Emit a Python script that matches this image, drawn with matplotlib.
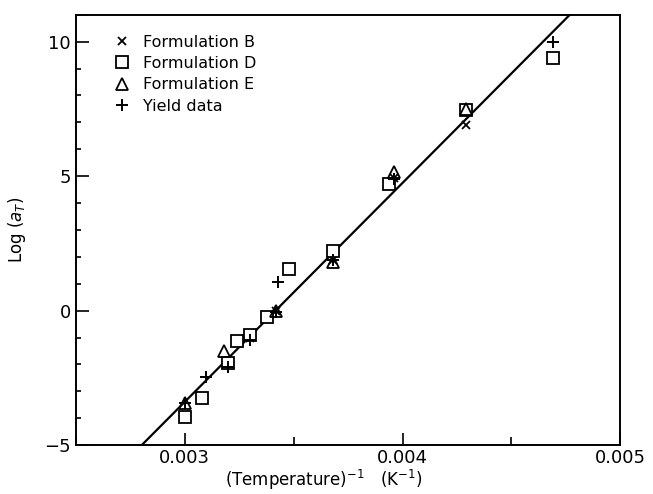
import numpy as np
import matplotlib
matplotlib.use("Agg")
import matplotlib.pyplot as plt
from matplotlib.ticker import MultipleLocator

# ---- data ----
form_b_x = [0.00429, 0.00396, 0.00368, 0.00342, 0.00330]
form_b_y = [6.90, 4.95, 1.90, 0.00, -1.00]

form_d_x = [0.00300, 0.00308, 0.00320, 0.00324, 0.00330, 0.00338, 0.00348, 0.00368, 0.00394, 0.00429, 0.00469]
form_d_y = [-3.95, -3.25, -1.95, -1.12, -0.92, -0.25, 1.56, 2.23, 4.72, 7.45, 9.40]

form_e_x = [0.00300, 0.00318, 0.00342, 0.00368, 0.00396, 0.00429]
form_e_y = [-3.45, -1.50, 0.00, 1.80, 5.15, 7.50]

yield_x = [0.00469, 0.00396, 0.00368, 0.00343, 0.00342, 0.00330, 0.00320, 0.00310, 0.00300]
yield_y = [10.00, 4.90, 1.90, 1.05, -0.05, -1.08, -2.10, -2.45, -3.45]

fit_slope = 8144.0      # d log(aT) / d(1/T)
fit_x0 = 0.003417       # 1/T where log(aT) = 0

legend_labels = ["Formulation B", "Formulation D", "Formulation E", "Yield data"]
x_tick_vals = [0.003, 0.004, 0.005]
x_tick_labels = ['0.003', '0.004', '0.005']
y_tick_vals = [-5, 0, 5, 10]
y_tick_labels = ['\u22125', '0', '5', '10']

# ---- figure ----
plt.rcParams['font.family'] = ['DejaVu Sans']
fig = plt.figure(figsize=(6.53, 4.94), dpi=100)
ax = fig.add_axes([0.116, 0.099, 0.834, 0.871])

xl = (0.0025, 0.005)
yl = (-5, 11)
ax.set_xlim(*xl)
ax.set_ylim(*yl)

# fitted line, clipped to axes
lx = np.array([fit_x0 + yl[0] / fit_slope, fit_x0 + yl[1] / fit_slope])
ax.plot(lx, fit_slope * (lx - fit_x0), color='black', lw=1.6, zorder=2)

ms = 8
ax.plot(form_b_x, form_b_y, linestyle='none', marker='x', ms=6, mew=1.3,
        color='black', label=legend_labels[0], zorder=3)
ax.plot(form_d_x, form_d_y, linestyle='none', marker='s', ms=ms, mew=1.3,
        mfc='white', mec='black', label=legend_labels[1], zorder=3)
ax.plot(form_e_x, form_e_y, linestyle='none', marker='^', ms=ms, mew=1.3,
        mfc='none', mec='black', label=legend_labels[2], zorder=4)
ax.plot(yield_x, yield_y, linestyle='none', marker='+', ms=8, mew=1.4,
        color='black', label=legend_labels[3], zorder=4)

ax.xaxis.set_minor_locator(MultipleLocator(0.0005))
ax.yaxis.set_minor_locator(MultipleLocator(1))
ax.set_xticks(x_tick_vals)
ax.set_xticklabels(x_tick_labels)
ax.set_yticks(y_tick_vals)
ax.set_yticklabels(y_tick_labels)

ax.tick_params(which='both', direction='in', labelsize=13, width=1.2)
ax.tick_params(axis='x', which='major', pad=3)
ax.tick_params(which='major', length=9)
ax.tick_params(axis='x', which='minor', length=5.5)
ax.tick_params(axis='y', which='minor', length=3.5)
for s in ax.spines.values():
    s.set_linewidth(1.4)

ax.set_xlabel(r'(Temperature)$^{-1}$   (K$^{-1}$)', fontsize=12)
ax.xaxis.set_label_coords(0.455, -0.052)
ax.set_ylabel(r'Log ($a_T$)', fontsize=12, labelpad=12)

leg = ax.legend(loc='upper left', bbox_to_anchor=(0.05, 0.98), frameon=False,
                fontsize=11.5, handlelength=1.0, handletextpad=0.8,
                labelspacing=0.4, borderaxespad=0.3)

fig.savefig('out.png', dpi=100)
